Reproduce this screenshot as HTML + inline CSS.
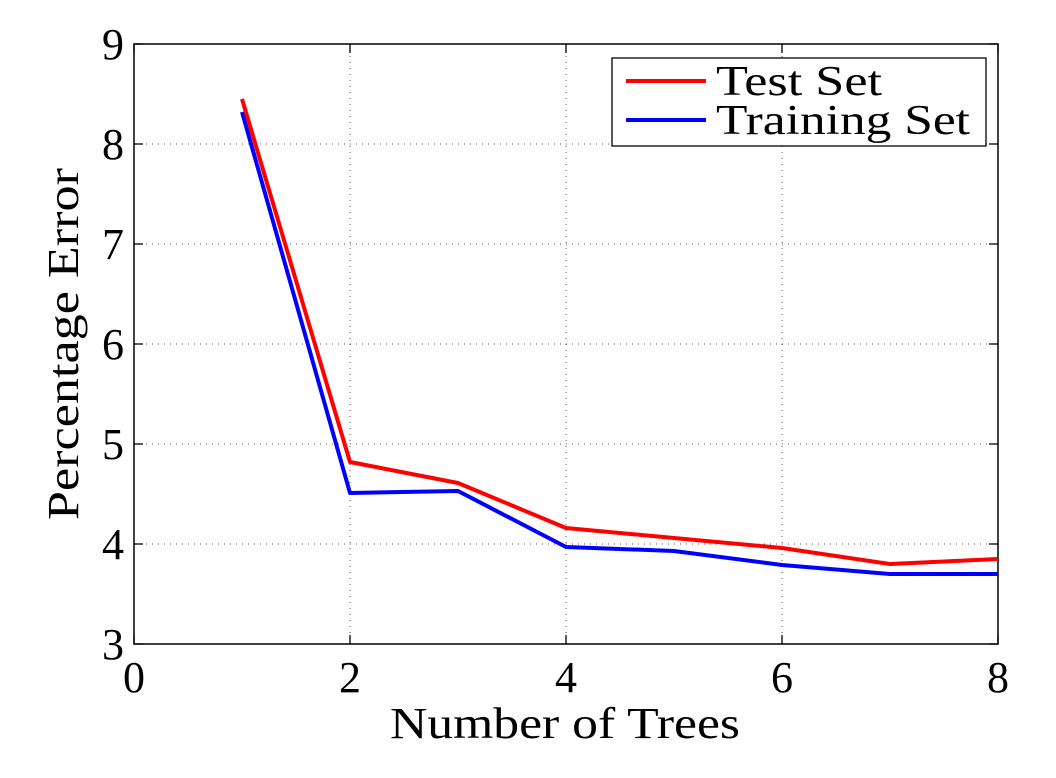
<!DOCTYPE html>
<html><head><meta charset="utf-8"><style>html,body{margin:0;padding:0;background:#fff}svg{display:block}svg text{font-family:"Liberation Serif","DejaVu Serif",serif}</style></head>
<body>
<svg id="chart" width="1056" height="778" xmlns="http://www.w3.org/2000/svg"></svg>
<script>
const xTicks=[0,2,4,6,8];
const yTicks=[3,4,5,6,7,8,9];
const trees=[1,2,3,4,5,6,7,8];
const testErr=[8.45,4.82,4.61,4.16,4.06,3.96,3.80,3.85];
const trainErr=[8.32,4.51,4.53,3.97,3.93,3.79,3.70,3.70];
const L=134,R=998,T=44,B=644;
const sx=v=>L+(v-0)/(8-0)*(R-L);
const sy=v=>B-(v-3)/(9-3)*(B-T);
const svg=document.getElementById('chart');
const NS='http://www.w3.org/2000/svg';
function mk(tag,attrs,parent){const e=document.createElementNS(NS,tag);for(const k in attrs)e.setAttribute(k,attrs[k]);(parent||svg).appendChild(e);return e;}
const grid=mk('g',{});


xTicks.forEach(t=>{if(t>0&&t<8)mk('line',{x1:sx(t),x2:sx(t),y1:T,y2:B,stroke:'#555','stroke-width':1,'stroke-dasharray':'1,5'},grid);});
yTicks.forEach(t=>{if(t>3&&t<9)mk('line',{x1:L,x2:R,y1:sy(t),y2:sy(t),stroke:'#555','stroke-width':1,'stroke-dasharray':'1,5'},grid);});
const ax=mk('rect',{x:L,y:T,width:R-L,height:B-T,fill:'none',stroke:'#000','stroke-width':1.5});


xTicks.forEach(t=>{
  mk('line',{x1:sx(t),x2:sx(t),y1:B,y2:B-9,stroke:'#000','stroke-width':1.3});
  mk('line',{x1:sx(t),x2:sx(t),y1:T,y2:T+9,stroke:'#000','stroke-width':1.3});
  const tx=mk('text',{x:sx(t),y:B+48,'font-size':44,'text-anchor':'middle'});tx.textContent=t;
  
  
});
yTicks.forEach(t=>{
  mk('line',{x1:L,x2:L+9,y1:sy(t),y2:sy(t),stroke:'#000','stroke-width':1.3});
  mk('line',{x1:R,x2:R-9,y1:sy(t),y2:sy(t),stroke:'#000','stroke-width':1.3});
  const tx=mk('text',{x:L-10,y:sy(t)+15,'font-size':44,'text-anchor':'end'});tx.textContent=t;
  
  
});
function series(vals,color,name){
  const p=mk('polyline',{points:trees.map((x,i)=>sx(x)+','+sy(vals[i])).join(' '),fill:'none',stroke:color,'stroke-width':4,'stroke-linejoin':'round'});
  
  
}
series(trainErr,'#0000ff','training-set-line');
series(testErr,'#ff0000','test-set-line');
const xt=mk('text',{x:390,y:738,'font-size':44,textLength:350,lengthAdjust:'spacingAndGlyphs'});xt.textContent='Number of Trees';


const yt=mk('text',{x:0,y:0,'font-size':44,textLength:352,lengthAdjust:'spacingAndGlyphs',transform:'translate(78 520) rotate(-90)'});yt.textContent='Percentage Error';


const lg=mk('g',{});


mk('rect',{x:612,y:58,width:374,height:88,fill:'#fff',stroke:'#000','stroke-width':1.3},lg);
mk('line',{x1:626,x2:706,y1:81,y2:81,stroke:'#ff0000','stroke-width':4},lg);
mk('line',{x1:626,x2:706,y1:120,y2:120,stroke:'#0000ff','stroke-width':4},lg);
const l1=mk('text',{x:716,y:95,'font-size':42,textLength:166,lengthAdjust:'spacingAndGlyphs'},lg);l1.textContent='Test Set';


const l2=mk('text',{x:716,y:134,'font-size':42,textLength:254,lengthAdjust:'spacingAndGlyphs'},lg);l2.textContent='Training Set';


</script>
</body></html>
